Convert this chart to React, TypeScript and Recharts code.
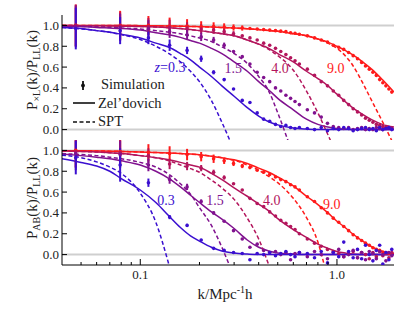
import React from "react";
import {
  ComposedChart, Line, Scatter, XAxis, YAxis, ErrorBar, ReferenceLine, ReferenceDot,
} from "recharts";

const FONT = '"Liberation Serif", "Times New Roman", serif';
const C03 = "#3a0fd0";
const C15 = "#80128f";
const C40 = "#b3155c";
const C90 = "#ff1a1a";

// k grid for the model curves
const K_LINE = [0.04, 0.05, 0.06, 0.07, 0.08, 0.1, 0.12, 0.14, 0.16, 0.18, 0.2, 0.23, 0.26, 0.3, 0.35, 0.4, 0.45, 0.5, 0.6, 0.7, 0.8, 0.9, 1.0, 1.1, 1.2, 1.35, 1.5, 1.7, 1.95];

// top panel: P_xL / P_LL
const ZEL_X_03 = [0.98, 0.97, 0.95, 0.935, 0.915, 0.88, 0.83, 0.79, 0.73, 0.67, 0.6, 0.51, 0.42, 0.32, 0.21, 0.13, 0.075, 0.045, 0.015, 0.005, 0, 0, 0, 0, 0, 0, 0, 0, 0];
const ZEL_X_15 = [0.99, 0.99, 0.98, 0.975, 0.97, 0.955, 0.93, 0.91, 0.885, 0.855, 0.83, 0.78, 0.73, 0.65, 0.56, 0.46, 0.38, 0.3, 0.19, 0.1, 0.05, 0.025, 0.01, 0.005, 0, 0, 0, 0, 0];
const ZEL_X_40 = [1.0, 0.997, 0.996, 0.995, 0.993, 0.99, 0.985, 0.978, 0.97, 0.96, 0.95, 0.935, 0.92, 0.9, 0.86, 0.82, 0.78, 0.73, 0.65, 0.56, 0.49, 0.42, 0.34, 0.27, 0.21, 0.145, 0.095, 0.05, 0.025];
const ZEL_X_90 = [1, 1, 1, 1, 0.999, 0.998, 0.997, 0.995, 0.993, 0.99, 0.988, 0.985, 0.98, 0.975, 0.968, 0.96, 0.952, 0.943, 0.92, 0.9, 0.87, 0.84, 0.8, 0.76, 0.72, 0.65, 0.58, 0.48, 0.36];
const SPT_X_03 = [0.98, 0.967, 0.95, 0.935, 0.912, 0.865, 0.8, 0.73, 0.65, 0.56, 0.46, 0.28, 0.07, -0.2];
const SPT_X_15 = [0.99, 0.99, 0.985, 0.98, 0.975, 0.965, 0.95, 0.935, 0.92, 0.9, 0.88, 0.845, 0.795, 0.73, 0.635, 0.51, 0.37, 0.16, -0.25];
const SPT_X_40 = [1.0, 0.997, 0.996, 0.995, 0.993, 0.99, 0.985, 0.978, 0.97, 0.96, 0.95, 0.935, 0.92, 0.9, 0.86, 0.82, 0.77, 0.71, 0.57, 0.37, 0.16, -0.05, -0.25];
const SPT_X_90 = [1, 1, 1, 1, 0.999, 0.998, 0.997, 0.995, 0.993, 0.99, 0.988, 0.985, 0.98, 0.975, 0.968, 0.96, 0.952, 0.943, 0.92, 0.9, 0.87, 0.83, 0.78, 0.71, 0.62, 0.45, 0.28, 0.08, -0.15];

// bottom panel: P_AB / P_LL
const ZEL_AB_03 = [0.92, 0.885, 0.85, 0.8, 0.73, 0.62, 0.5, 0.37, 0.26, 0.18, 0.13, 0.07, 0.035, 0.015, 0.005, 0, 0, 0, 0, 0, 0, 0, 0, 0, 0, 0, 0, 0, 0];
const ZEL_AB_15 = [0.965, 0.95, 0.935, 0.92, 0.9, 0.86, 0.8, 0.73, 0.65, 0.57, 0.5, 0.41, 0.34, 0.25, 0.14, 0.07, 0.035, 0.015, 0.005, 0, 0, 0, 0, 0, 0, 0, 0, 0, 0];
const ZEL_AB_40 = [0.995, 0.99, 0.985, 0.978, 0.97, 0.95, 0.93, 0.91, 0.885, 0.86, 0.84, 0.78, 0.72, 0.64, 0.56, 0.485, 0.42, 0.345, 0.24, 0.165, 0.1, 0.06, 0.03, 0.015, 0.005, 0, 0, 0, 0];
const ZEL_AB_90 = [0.998, 0.997, 0.995, 0.993, 0.99, 0.985, 0.98, 0.975, 0.97, 0.965, 0.958, 0.945, 0.93, 0.91, 0.875, 0.83, 0.79, 0.745, 0.66, 0.56, 0.48, 0.4, 0.32, 0.26, 0.2, 0.13, 0.075, 0.03, 0.01];
const SPT_AB_03 = [0.955, 0.93, 0.89, 0.84, 0.78, 0.59, 0.31, -0.1];
const SPT_AB_15 = [0.97, 0.96, 0.95, 0.935, 0.92, 0.885, 0.84, 0.77, 0.68, 0.58, 0.45, 0.28, 0.07, -0.22];
const SPT_AB_40 = [0.995, 0.99, 0.985, 0.978, 0.97, 0.95, 0.93, 0.9, 0.86, 0.825, 0.79, 0.715, 0.64, 0.53, 0.35, 0.15, -0.1];
const SPT_AB_90 = [0.998, 0.997, 0.995, 0.993, 0.99, 0.985, 0.98, 0.975, 0.97, 0.965, 0.958, 0.945, 0.93, 0.905, 0.86, 0.81, 0.75, 0.69, 0.54, 0.355, 0.12, -0.25];

// simulation bins
const K_SIM = [0.047, 0.079, 0.11, 0.141, 0.173, 0.204, 0.236, 0.267, 0.298, 0.33, 0.361, 0.393, 0.424, 0.455, 0.487, 0.518, 0.55, 0.581, 0.612, 0.644, 0.707, 0.769, 0.832, 0.895, 0.958, 1.021, 1.083, 1.146, 1.209, 1.272, 1.335, 1.397, 1.46, 1.523, 1.586, 1.649, 1.711, 1.774, 1.837, 1.9];

const SIM_X_03 = [0.97, 0.95, 0.88, 0.81, 0.76, 0.68, 0.55, 0.48, 0.39, 0.28, 0.26, 0.16, 0.1, 0.08, 0.05, 0.03, 0.04, 0.02, 0.01, 0.02, 0.01, 0.0, 0.02, -0.01, 0.01, 0.0, 0.02, 0.01, -0.01, 0.0, 0.01, 0.02, 0.0, 0.01, -0.01, 0.02, 0.0, 0.01, 0.02, 0.0];
const SIM_X_15 = [0.99, 0.98, 0.97, 0.94, 0.91, 0.89, 0.86, 0.81, 0.75, 0.7, 0.63, 0.55, 0.5, 0.46, 0.4, 0.37, 0.33, 0.3, 0.27, 0.24, 0.19, 0.16, 0.12, 0.06, 0.03, 0.02, 0.01, 0.02, 0.0, 0.01, 0.02, 0.0, 0.01, 0.0, 0.02, 0.01, 0.0, 0.01, 0.02, 0.01];
const SIM_X_40 = [1.0, 0.995, 0.99, 0.985, 0.975, 0.965, 0.955, 0.94, 0.92, 0.9, 0.88, 0.86, 0.83, 0.81, 0.78, 0.75, 0.72, 0.69, 0.66, 0.63, 0.58, 0.52, 0.46, 0.42, 0.37, 0.33, 0.28, 0.24, 0.2, 0.17, 0.14, 0.11, 0.09, 0.07, 0.05, 0.04, 0.03, 0.02, 0.02, 0.01];
const SIM_X_90 = [1.0, 1.0, 1.0, 0.995, 0.995, 0.99, 0.99, 0.985, 0.98, 0.975, 0.97, 0.965, 0.96, 0.955, 0.95, 0.945, 0.94, 0.93, 0.925, 0.915, 0.9, 0.88, 0.86, 0.84, 0.81, 0.79, 0.77, 0.74, 0.71, 0.68, 0.645, 0.61, 0.58, 0.55, 0.52, 0.48, 0.45, 0.42, 0.39, 0.36];
const SIM_AB_03 = [0.93, 0.86, 0.69, 0.36, 0.28, 0.14, 0.06, 0.04, 0.02, 0.01, -0.05, 0.01, 0.0, 0.02, -0.01, 0.01, 0.03, 0.0, -0.02, 0.02, 0.01, -0.03, 0.03, -0.08, 0.02, -0.02, 0.12, 0.03, -0.03, 0.05, -0.04, 0.09, 0.0, -0.06, 0.04, 0.09, -0.09, 0.02, -0.05, 0.05];
const SIM_AB_15 = [0.97, 0.96, 0.86, 0.72, 0.65, 0.51, 0.4, 0.32, 0.23, 0.15, 0.07, 0.1, 0.04, 0.02, 0.03, 0.0, 0.02, -0.05, 0.01, 0.02, -0.02, 0.03, 0.0, -0.04, 0.02, 0.05, -0.02, 0.0, 0.04, -0.03, 0.02, -0.05, 0.03, 0.01, -0.04, 0.03, 0.0, -0.06, 0.02, -0.01];
const SIM_AB_40 = [0.99, 0.98, 0.95, 0.87, 0.85, 0.83, 0.79, 0.74, 0.68, 0.62, 0.54, 0.49, 0.46, 0.41, 0.37, 0.33, 0.3, 0.27, 0.24, 0.2, 0.15, 0.11, 0.08, 0.05, 0.03, 0.01, -0.02, 0.01, 0.03, -0.03, 0.02, 0.0, -0.04, 0.02, -0.02, 0.03, -0.01, 0.01, -0.03, 0.02];
const SIM_AB_90 = [1.0, 0.99, 0.98, 0.97, 0.96, 0.94, 0.92, 0.9, 0.875, 0.85, 0.835, 0.81, 0.79, 0.77, 0.745, 0.72, 0.7, 0.67, 0.65, 0.62, 0.555, 0.51, 0.45, 0.4, 0.35, 0.31, 0.27, 0.23, 0.19, 0.16, 0.135, 0.11, 0.09, 0.065, 0.05, 0.04, 0.025, 0.02, 0.01, 0.01];

// error bar half-lengths for the first few bins
const ERR_X_03 = [0.2, 0.13, 0.06, 0.055, 0.035, 0.03, 0.02, 0.015];
const ERR_X_15 = [0.2, 0.13, 0.08, 0.06, 0.05, 0.04, 0.03, 0.025];
const ERR_X_40 = [0.2, 0.13, 0.08, 0.07, 0.055, 0.045, 0.035, 0.03, 0.025];
const ERR_X_90 = [0.2, 0.14, 0.09, 0.08, 0.065, 0.05, 0.04, 0.035, 0.03, 0.025];
const ERR_AB_03 = [0.16, 0.16, 0.04, 0.02, 0.015, 0.01];
const ERR_AB_15 = [0.16, 0.13, 0.06, 0.04, 0.03, 0.02, 0.015];
const ERR_AB_40 = [0.16, 0.12, 0.07, 0.05, 0.04, 0.03, 0.025, 0.02];
const ERR_AB_90 = [0.16, 0.12, 0.08, 0.07, 0.055, 0.045, 0.04, 0.03, 0.025, 0.02];

const X_TICKS = [0.05, 0.06, 0.07, 0.08, 0.09, 0.1, 0.2, 0.3, 0.4, 0.5, 0.6, 0.7, 0.8, 0.9, 1.0];
const X_LABELS: Record<string, string> = { "0.1": "0.1", "1": "1.0" };
const Y_TICKS = [0, 0.2, 0.4, 0.6, 0.8, 1.0];
const Y_LABELS = ["0.0", "0.2", "0.4", "0.6", "0.8", "1.0"];

const toLine = (vals: number[]) => vals.map((v, i) => ({ k: K_LINE[i], v }));
const toSim = (vals: number[], err: number[]) => vals.map((v, i) => ({ k: K_SIM[i], v, e: err[i] }));

const TOP = [
  { color: C90, zel: ZEL_X_90, spt: SPT_X_90, sim: SIM_X_90, err: ERR_X_90 },
  { color: C40, zel: ZEL_X_40, spt: SPT_X_40, sim: SIM_X_40, err: ERR_X_40 },
  { color: C15, zel: ZEL_X_15, spt: SPT_X_15, sim: SIM_X_15, err: ERR_X_15 },
  { color: C03, zel: ZEL_X_03, spt: SPT_X_03, sim: SIM_X_03, err: ERR_X_03 },
];
const BOTTOM = [
  { color: C90, zel: ZEL_AB_90, spt: SPT_AB_90, sim: SIM_AB_90, err: ERR_AB_90 },
  { color: C40, zel: ZEL_AB_40, spt: SPT_AB_40, sim: SIM_AB_40, err: ERR_AB_40 },
  { color: C15, zel: ZEL_AB_15, spt: SPT_AB_15, sim: SIM_AB_15, err: ERR_AB_15 },
  { color: C03, zel: ZEL_AB_03, spt: SPT_AB_03, sim: SIM_AB_03, err: ERR_AB_03 },
];

const xTick = (side: "top" | "bottom", labels: boolean) => (p: any) => {
  const { x, y, payload } = p;
  const lab = X_LABELS[String(payload.value)];
  const len = lab ? 6 : 3;
  const dir = side === "bottom" ? -1 : 1;
  return (
    <g>
      <line x1={x} y1={y} x2={x} y2={y + dir * len} stroke="#000" strokeWidth={1} />
      {labels && lab ? (
        <text x={x} y={y + 14} textAnchor="middle" fontSize={13} fontFamily={FONT} fill="#222">{lab}</text>
      ) : null}
    </g>
  );
};

const yTick = (side: "left" | "right") => (p: any) => {
  const { x, y, payload } = p;
  const dir = side === "left" ? 1 : -1;
  const idx = Y_TICKS.indexOf(payload.value);
  return (
    <g>
      <line x1={x} y1={y} x2={x + dir * 5} y2={y} stroke="#000" strokeWidth={1} />
      {side === "left" ? (
        <text x={x - 3} y={y + 4.5} textAnchor="end" fontSize={13} fontFamily={FONT} fill="#222">{Y_LABELS[idx]}</text>
      ) : null}
    </g>
  );
};

const zLabel = (text: string, color: string, italicZ: boolean) => (p: any) => {
  const vb = p.viewBox || {};
  return (
    <text x={vb.x} y={vb.y + 5} textAnchor="middle" fontSize={14} fontFamily={FONT} fill={color}>
      {italicZ ? <tspan fontStyle="italic">z</tspan> : null}
      {text}
    </text>
  );
};

function Panel({ series, labels, bottom }: { series: typeof TOP; labels: { k: number; v: number; t: string; c: string; z?: boolean }[]; bottom: boolean }) {
  const axisProps = {
    dataKey: "k", type: "number" as const, scale: "log" as const, domain: [0.04, 1.95],
    allowDataOverflow: true, ticks: X_TICKS, interval: 0 as const, tickSize: 0, tickMargin: 0,
    tickLine: false, axisLine: { stroke: "#000" },
  };
  const yProps = {
    dataKey: "v", type: "number" as const, domain: [-0.1, 1.1], allowDataOverflow: true,
    ticks: Y_TICKS, interval: 0 as const, tickSize: 0, tickMargin: 0, tickLine: false, axisLine: { stroke: "#000" },
  };
  return (
    <ComposedChart width={415} height={bottom ? 172 : 140} margin={{ top: bottom ? 0 : 15, right: 21, bottom: 0, left: 0 }}>
      <XAxis xAxisId="b" {...axisProps} height={bottom ? 47 : 0} tick={xTick("bottom", bottom)} />
      <XAxis xAxisId="t" orientation="top" {...axisProps} height={0} tick={xTick("top", false)} />
      <YAxis yAxisId="l" {...yProps} width={62} tick={yTick("left")} />
      <YAxis yAxisId="r" orientation="right" {...yProps} width={0} tick={yTick("right")} />
      <ReferenceLine xAxisId="b" yAxisId="l" y={0} stroke="#cfcfcf" strokeWidth={2} />
      <ReferenceLine xAxisId="b" yAxisId="l" y={1} stroke="#cfcfcf" strokeWidth={2} />
      {series.map((s, i) => (
        <Line key={"z" + i} xAxisId="b" yAxisId="l" data={toLine(s.zel)} dataKey="v" type="monotone"
          stroke={s.color} strokeWidth={1.5} dot={false} isAnimationActive={false} />
      ))}
      {series.map((s, i) => (
        <Line key={"s" + i} xAxisId="b" yAxisId="l" data={toLine(s.spt)} dataKey="v" type="monotone"
          stroke={s.color} strokeWidth={1.5} strokeDasharray="4 2.5" dot={false} isAnimationActive={false} />
      ))}
      {series.map((s, i) => (
        <Scatter key={"p" + i} xAxisId="b" yAxisId="l" data={toSim(s.sim, s.err)} dataKey="v" fill={s.color}
          isAnimationActive={false}
          shape={(p: any) => <circle cx={p.cx} cy={p.cy} r={1.8} fill={s.color} />}>
          <ErrorBar dataKey="e" direction="y" width={0} stroke={s.color} strokeWidth={2} />
        </Scatter>
      ))}
      {labels.map((l, i) => (
        <ReferenceDot key={"l" + i} xAxisId="b" yAxisId="l" x={l.k} y={l.v} r={0} stroke="none"
          label={zLabel(l.t, l.c, !!l.z)} />
      ))}
    </ComposedChart>
  );
}

const TOP_LABELS = [
  { k: 0.1416, v: 0.6, t: "=0.3", c: C03, z: true },
  { k: 0.297, v: 0.59, t: "1.5", c: C15 },
  { k: 0.513, v: 0.59, t: "4.0", c: C40 },
  { k: 0.986, v: 0.59, t: "9.0", c: C90 },
];
const BOTTOM_LABELS = [
  { k: 0.135, v: 0.524, t: "0.3", c: C03 },
  { k: 0.24, v: 0.524, t: "1.5", c: C15 },
  { k: 0.466, v: 0.524, t: "4.0", c: C40 },
  { k: 0.94, v: 0.483, t: "9.0", c: C90 },
];

export default function App() {
  return (
    <div style={{ position: "absolute", left: 0, top: 0, width: 415, height: 312, background: "#fff" }}>
      <div style={{ position: "absolute", left: 0, top: 0 }}>
        <Panel series={TOP} labels={TOP_LABELS} bottom={false} />
      </div>
      <div style={{ position: "absolute", left: 0, top: 140 }}>
        <Panel series={BOTTOM} labels={BOTTOM_LABELS} bottom={true} />
      </div>
      <svg width={415} height={312} style={{ position: "absolute", left: 0, top: 0, pointerEvents: "none" }}
        fontFamily={FONT} fill="#222">
        <text transform="translate(37,70) rotate(-90)" textAnchor="middle" fontSize={15}>
          P<tspan fontSize={10} dy={3}>×L</tspan><tspan dy={-3}>(k)/P</tspan><tspan fontSize={10} dy={3}>LL</tspan><tspan dy={-3}>(k)</tspan>
        </text>
        <text transform="translate(37,198) rotate(-90)" textAnchor="middle" fontSize={15}>
          P<tspan fontSize={10} dy={3}>AB</tspan><tspan dy={-3}>(k)/P</tspan><tspan fontSize={10} dy={3}>LL</tspan><tspan dy={-3}>(k)</tspan>
        </text>
        <text x={225} y={299} textAnchor="middle" fontSize={15}>
          k/Mpc<tspan fontSize={10} dy={-6}>-1</tspan><tspan dy={6}>h</tspan>
        </text>
        <line x1={83} y1={81} x2={83} y2={90} stroke="#111" strokeWidth={1.8} />
        <circle cx={83} cy={85.5} r={1.9} fill="#111" />
        <text x={101} y={89} fontSize={14.5}>Simulation</text>
        <line x1={73} y1={103} x2={95} y2={103} stroke="#111" strokeWidth={1.6} />
        <text x={98} y={107.5} fontSize={14.5}>Zel’dovich</text>
        <line x1={73} y1={122} x2={95} y2={122} stroke="#111" strokeWidth={1.6} strokeDasharray="4 2.5" />
        <text x={98} y={126} fontSize={14.5}>SPT</text>
      </svg>
    </div>
  );
}
